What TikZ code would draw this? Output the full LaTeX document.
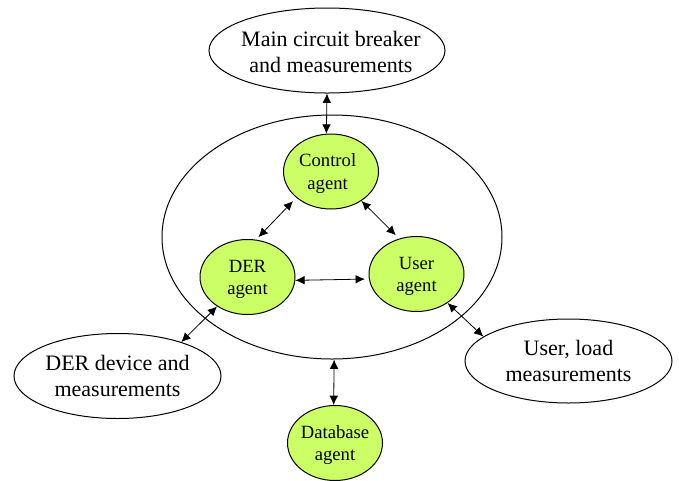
\documentclass[tikz,border=0pt]{standalone}
\usepackage{fontspec}
\setmainfont{Liberation Serif}
\usetikzlibrary{shapes.geometric,arrows.meta}
\definecolor{agentgreen}{RGB}{204,255,102}
\newcommand{\downstrut}[1]{\rule{0pt}{#1}}
\tikzset{
 ell/.style={draw,ellipse,line width=0.75pt,align=center},
 ag/.style={ell,fill=agentgreen,inner sep=-5pt,minimum width=71.25pt,minimum height=56.25pt,font=\fontsize{14}{16.8}\selectfont},
 ext/.style={ell,fill=white,inner sep=-14pt,font=\fontsize{16.5}{19.5}\selectfont},
 conn/.style={line width=0.6pt,{Latex[length=7pt,width=6.5pt]}-{Latex[length=7pt,width=6.5pt]}}
}
\begin{document}
\begin{tikzpicture}[x=0.75pt,y=-0.75pt]
\useasboundingbox (0,0) rectangle (679,480);
\node[ell,inner sep=0pt,minimum width=255pt,minimum height=183pt] (big) at (332,237) {};
\node[ext,minimum width=177pt,minimum height=63.75pt] (main) at (327,50.5) {\downstrut{13pt}\hspace*{6pt}Main circuit breaker\\\hspace*{6pt}and measurements};
\node[ext,minimum width=155.25pt,minimum height=63.75pt] (der) at (117.5,376) {DER device and\\measurements};
\node[ext,minimum width=155.25pt,minimum height=63pt] (user) at (568.5,361) {User, load\\measurements};
\node[ag] (ctrl) at (331,171.5) {\downstrut{13pt}\hspace*{-5pt}Control\\\hspace*{-5pt}agent};
\node[ag] (dera) at (247.5,277) {\downstrut{13pt}DER\\agent};
\node[ag] (usera) at (416.5,274) {\downstrut{13pt}User\\agent};
\node[ag] (db) at (335,443) {\downstrut{13pt}Database\\agent};
\draw[conn] (main.270) -- (ctrl.97);
\draw[conn,shorten <=3.5pt,shorten >=2.5pt] (ctrl.217.6) -- (dera.77);
\draw[conn,shorten >=3.5pt] (ctrl.-44.5) -- (usera.116.9);
\draw[conn,shorten >=3pt] (dera.-4.75) -- (usera.186.6);
\draw[conn] (dera.224.8) -- (der.28);
\draw[conn] (usera.-43.5) -- (user.164.4);
\draw[conn] (big.-89.4) -- (db.92.5);
\end{tikzpicture}
\end{document}
